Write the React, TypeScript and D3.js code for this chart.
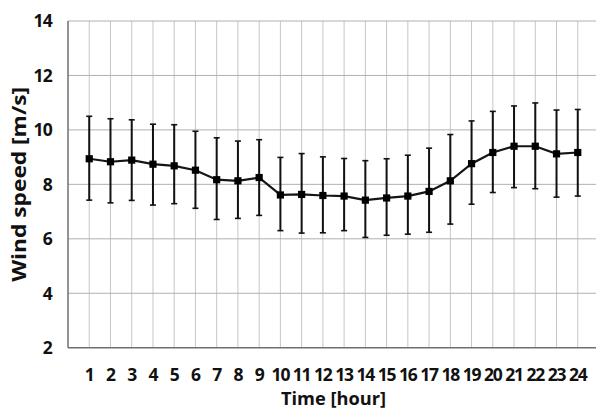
import React from "react";
import * as d3 from "d3";

const hours = [1,2,3,4,5,6,7,8,9,10,11,12,13,14,15,16,17,18,19,20,21,22,23,24];
const meanSpeed = [8.94,8.83,8.89,8.74,8.68,8.52,8.17,8.13,8.25,7.61,7.63,7.59,7.57,7.42,7.50,7.57,7.74,8.13,8.76,9.17,9.40,9.40,9.12,9.17];
const upperSpeed = [10.50,10.41,10.37,10.21,10.19,9.95,9.71,9.59,9.64,8.99,9.13,9.01,8.95,8.87,8.94,9.07,9.33,9.83,10.33,10.68,10.88,10.99,10.73,10.75];
const lowerSpeed = [7.42,7.32,7.41,7.24,7.29,7.12,6.71,6.75,6.86,6.30,6.21,6.22,6.30,6.05,6.13,6.17,6.24,6.54,7.27,7.70,7.88,7.84,7.53,7.57];
const yTicks = [2,4,6,8,10,12,14];
const xTitle = "Time [hour]";
const yTitle = "Wind speed [m/s]";

const W = 596, H = 413;
const left = 68, right = 599, top = 21, bottom = 347.7;

export default function App() {
  const x = d3.scaleLinear().domain([0, 25]).range([left, right]);
  const y = d3.scaleLinear().domain([2, 14]).range([bottom, top]);
  const line = d3.line<number>().x((_, i) => x(hours[i])).y((d) => y(d));
  const font = "'Open Sans', sans-serif";
  return (
    <svg width={W} height={H} style={{ position: "absolute", left: 0, top: 0, background: "#fff" }}>
      {hours.map((h) => (
        <line key={"vg" + h} x1={x(h)} x2={x(h)} y1={top} y2={bottom} stroke="#c6c6c6" strokeWidth={1} />
      ))}
      {yTicks.filter((t) => t > 2).map((t) => (
        <line key={"hg" + t} x1={left} x2={W} y1={y(t)} y2={y(t)} stroke="#b0b0b0" strokeWidth={1} />
      ))}
      <line x1={left} x2={left} y1={top} y2={bottom} stroke="#6f6f6f" strokeWidth={1.5} />
      <line x1={left} x2={W} y1={bottom} y2={bottom} stroke="#6f6f6f" strokeWidth={1.5} />
      {yTicks.map((t) => (
        <text key={"yt" + t} x={52} y={y(t)} dy="0.36em" textAnchor="end" fontFamily={font} fontWeight={700} fontSize={17.5} letterSpacing={-0.8} fill="#111">
          {t}
        </text>
      ))}
      {hours.map((h) => (
        <text key={"xt" + h} x={x(h)} y={381} textAnchor="middle" fontFamily={font} fontWeight={700} fontSize={17.5} letterSpacing={-1.2} fill="#111">
          {h}
        </text>
      ))}
      <text x={(left + right) / 2} y={405} textAnchor="middle" fontFamily={font} fontWeight={700} fontSize={18} fill="#111" textLength={105} lengthAdjust="spacingAndGlyphs">
        {xTitle}
      </text>
      <text transform={`translate(25.7, ${(top + bottom) / 2}) rotate(-90)`} textAnchor="middle" fontFamily={font} fontWeight={700} fontSize={20} fill="#111" textLength={195} lengthAdjust="spacingAndGlyphs">
        {yTitle}
      </text>
      {hours.map((h, i) => (
        <g key={"eb" + h} stroke="#111">
          <line x1={x(h)} x2={x(h)} y1={y(upperSpeed[i])} y2={y(lowerSpeed[i])} strokeWidth={2} />
          <line x1={x(h) - 3} x2={x(h) + 3} y1={y(upperSpeed[i])} y2={y(upperSpeed[i])} strokeWidth={1.6} />
          <line x1={x(h) - 3} x2={x(h) + 3} y1={y(lowerSpeed[i])} y2={y(lowerSpeed[i])} strokeWidth={1.6} />
        </g>
      ))}
      <path d={line(meanSpeed) || ""} fill="none" stroke="#151515" strokeWidth={2.2} />
      {hours.map((h, i) => (
        <rect key={"m" + h} x={x(h) - 3.6} y={y(meanSpeed[i]) - 3.6} width={7.2} height={7.2} fill="#000" />
      ))}
    </svg>
  );
}
